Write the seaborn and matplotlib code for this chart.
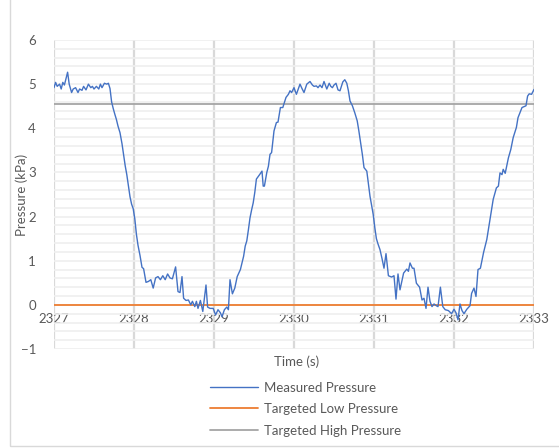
import numpy as np
import pandas as pd
import matplotlib
matplotlib.use("Agg")
import matplotlib.pyplot as plt
import seaborn as sns
from matplotlib.patches import Rectangle

# time offsets from 2327 s and measured pressure (kPa)
t_offset = [
    0.00, 0.02, 0.04, 0.07, 0.09, 0.11, 0.13, 0.17, 0.19, 0.22, 0.24, 0.27, 0.30, 0.32,
    0.35, 0.37, 0.40, 0.43, 0.46, 0.48, 0.50, 0.53, 0.56, 0.58, 0.60, 0.63, 0.66, 0.68,
    0.70, 0.72, 0.74, 0.76, 0.78, 0.80, 0.825, 0.85, 0.87, 0.89, 0.91, 0.93, 0.95, 0.97,
    0.99, 1.01, 1.03, 1.05, 1.075, 1.10, 1.12, 1.15, 1.18, 1.21, 1.24, 1.27, 1.30, 1.33,
    1.36, 1.39, 1.42, 1.45, 1.48, 1.52, 1.55, 1.575, 1.60, 1.62, 1.65, 1.68, 1.71, 1.73,
    1.76, 1.78, 1.80, 1.83, 1.86, 1.90, 1.92, 1.95, 1.99, 2.02, 2.05, 2.08, 2.10, 2.13,
    2.16, 2.18, 2.20, 2.23, 2.26, 2.29, 2.33, 2.37, 2.39, 2.41, 2.43, 2.45, 2.47, 2.49,
    2.51, 2.53, 2.57, 2.60, 2.615, 2.63, 2.66, 2.68, 2.70, 2.72, 2.75, 2.78, 2.80, 2.83,
    2.86, 2.90, 2.93, 2.95, 2.97, 3.00, 3.03, 3.075, 3.10, 3.125, 3.16, 3.20, 3.23, 3.25,
    3.28, 3.30, 3.325, 3.35, 3.375, 3.41, 3.44, 3.46, 3.48, 3.50, 3.525, 3.55, 3.575, 3.61,
    3.635, 3.66, 3.68, 3.70, 3.73, 3.76, 3.79, 3.81, 3.83, 3.855, 3.875, 3.91, 3.93, 3.95,
    3.97, 3.99, 4.01, 4.03, 4.05, 4.075, 4.10, 4.125, 4.15, 4.18, 4.22, 4.25, 4.275, 4.30,
    4.325, 4.37, 4.41, 4.43, 4.45, 4.48, 4.50, 4.53, 4.57, 4.60, 4.625, 4.65, 4.675, 4.70,
    4.725, 4.75, 4.78, 4.80, 4.83, 4.86, 4.89, 4.93, 4.97, 5.00, 5.025, 5.05, 5.075, 5.10,
    5.125, 5.16, 5.20, 5.22, 5.25, 5.275, 5.30, 5.33, 5.37, 5.41, 5.45, 5.49, 5.53, 5.555,
    5.575, 5.60, 5.615, 5.64, 5.68, 5.71, 5.74, 5.78, 5.80, 5.85, 5.875, 5.90, 5.92, 5.94,
    5.97, 6.00,
]
measured = [
    4.92, 5.04, 4.95, 5.00, 4.89, 5.04, 4.98, 5.27, 5.00, 4.81, 4.89, 4.92, 4.81, 4.89,
    4.86, 4.95, 4.87, 5.00, 4.92, 4.95, 4.89, 4.95, 4.89, 5.00, 4.92, 5.02, 5.00, 5.02,
    4.90, 4.60, 4.45, 4.32, 4.20, 4.05, 3.90, 3.65, 3.40, 3.15, 2.95, 2.70, 2.45, 2.28,
    2.18, 1.95, 1.60, 1.35, 1.12, 0.85, 0.82, 0.51, 0.53, 0.57, 0.38, 0.61, 0.64, 0.57,
    0.66, 0.57, 0.70, 0.61, 0.59, 0.86, 0.30, 0.28, 0.64, 0.15, 0.10, 0.11, 0.00, 0.08,
    -0.04, 0.08, -0.08, 0.10, -0.15, 0.45, -0.05, -0.08, -0.08, -0.23, -0.11, -0.18, -0.27, -0.11,
    -0.05, -0.11, 0.57, 0.25, 0.38, 0.64, 0.80, 1.10, 1.33, 1.45, 1.70, 1.97, 2.15, 2.31,
    2.55, 2.85, 2.95, 3.03, 2.69, 2.69, 3.00, 3.14, 3.41, 3.45, 3.94, 4.13, 4.14, 4.47,
    4.47, 4.70, 4.77, 4.85, 4.81, 4.92, 4.77, 5.00, 4.90, 4.81, 5.00, 5.06, 4.98, 4.95,
    4.96, 4.92, 4.98, 4.92, 5.06, 4.89, 5.02, 4.95, 4.92, 4.98, 5.02, 4.87, 4.85, 5.05,
    5.10, 5.02, 4.85, 4.62, 4.51, 4.35, 4.17, 3.95, 3.71, 3.40, 3.11, 3.03, 2.75, 2.46,
    2.25, 2.05, 1.75, 1.50, 1.38, 1.25, 1.05, 0.83, 1.16, 0.66, 0.63, 0.66, 0.13, 0.70,
    0.34, 0.72, 0.81, 0.76, 0.95, 0.83, 0.83, 0.49, 0.40, 0.11, 0.15, -0.08, 0.40, 0.08,
    -0.04, 0.02, -0.02, -0.04, 0.40, -0.04, -0.11, -0.13, -0.20, -0.10, -0.18, -0.34, 0.02, -0.13,
    -0.20, -0.10, -0.02, 0.26, 0.38, 0.19, 0.80, 0.83, 1.19, 1.48, 1.93, 2.39, 2.65, 2.69,
    2.99, 2.95, 3.07, 2.98, 3.33, 3.52, 3.79, 4.02, 4.24, 4.47, 4.49, 4.51, 4.73, 4.78,
    4.77, 4.88,
]
t_start = 2327
target_low = 0.0
target_high = 4.55
x_ticks = [2327, 2328, 2329, 2330, 2331, 2332, 2333]

df = pd.DataFrame({"time": np.array(t_offset) + t_start, "pressure": measured})
targets = pd.DataFrame({"time": [x_ticks[0], x_ticks[-1]]})
targets["low"] = target_low
targets["high"] = target_high

sns.set_style("white")
plt.rcParams["font.family"] = ["Lato", "DejaVu Sans"]

fig = plt.figure(figsize=(5.59, 4.48), dpi=100)
ax = fig.add_axes([54 / 559, 1 - 349 / 448, 480 / 559, 309 / 448])

# chart border (screenshot is cropped on the right / top)
fig.patches.append(Rectangle((10 / 559, 2 / 448), 1.2, 1.2, transform=fig.transFigure,
                             fill=False, edgecolor="#d9d9d9", lw=1, zorder=0))

blue, orange, grey = "#4472c4", "#ed7d31", "#a5a5a5"
sns.lineplot(data=df, x="time", y="pressure", ax=ax, color=blue, lw=1.0,
             label="Measured Pressure", zorder=4)
sns.lineplot(data=targets, x="time", y="low", ax=ax, color=orange, lw=1.3,
             label="Targeted Low Pressure", zorder=3)
sns.lineplot(data=targets, x="time", y="high", ax=ax, color=grey, lw=1.3,
             label="Targeted High Pressure", zorder=3)

ax.set_xlim(2327, 2333)
ax.set_ylim(-1, 6)
ax.set_xticks(x_ticks)
ax.set_xticklabels([str(v) for v in x_ticks])
ax.set_yticks(range(-1, 7))
ax.set_yticks(np.arange(-1, 6.01, 0.2), minor=True)
ax.grid(axis="y", which="both", color="#efefef", lw=1.2)
ax.grid(axis="x", which="major", color="#d9d9d9", lw=1.6)
ax.set_axisbelow(True)

for s in ["top", "right", "left"]:
    ax.spines[s].set_visible(False)
ax.spines["bottom"].set_position(("data", 0))
ax.spines["bottom"].set_visible(False)
ax.tick_params(axis="both", which="both", length=0, labelsize=9.5, labelcolor="#595959")
ax.tick_params(axis="x", pad=6)
ax.tick_params(axis="y", pad=13)

ax.set_xlabel("")
ax.set_ylabel("Pressure (kPa)", color="#595959", fontsize=9.5)
ax.yaxis.set_label_coords((28 - 54) / 480, 0.5)
fig.text(297 / 559, 1 - 362 / 448, "Time (s)", ha="center", va="center",
         color="#595959", fontsize=9.5)

ax.legend(loc="center", bbox_to_anchor=(306 / 559, 1 - 409 / 448),
          bbox_transform=fig.transFigure, frameon=False,
          fontsize=9.5, labelcolor="#595959", handlelength=3.6, labelspacing=0.72,
          handletextpad=0.5)

fig.savefig("out.png", dpi=100)
